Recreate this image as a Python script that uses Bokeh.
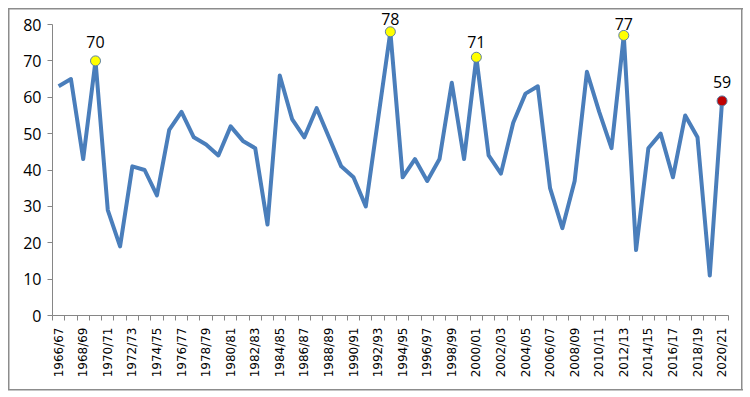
import math
from bokeh.plotting import figure
from bokeh.models import Range1d, FixedTicker, ColumnDataSource, LabelSet
from bokeh.core.properties import value
from bokeh.embed import file_html
from bokeh.resources import INLINE

seasons = [
    "1966/67", "1967/68", "1968/69", "1969/70", "1970/71", "1971/72", "1972/73",
    "1973/74", "1974/75", "1975/76", "1976/77", "1977/78", "1978/79", "1979/80",
    "1980/81", "1981/82", "1982/83", "1983/84", "1984/85", "1985/86", "1986/87",
    "1987/88", "1988/89", "1989/90", "1990/91", "1991/92", "1992/93", "1993/94",
    "1994/95", "1995/96", "1996/97", "1997/98", "1998/99", "1999/00", "2000/01",
    "2001/02", "2002/03", "2003/04", "2004/05", "2005/06", "2006/07", "2007/08",
    "2008/09", "2009/10", "2010/11", "2011/12", "2012/13", "2013/14", "2014/15",
    "2015/16", "2016/17", "2017/18", "2018/19", "2019/20", "2020/21",
]
values = [
    63, 65, 43, 70, 29, 19, 41, 40, 33, 51, 56, 49, 47, 44, 52, 48, 46, 25,
    66, 54, 49, 57, 49, 41, 38, 30, 54, 78, 38, 43, 37, 43, 64, 43, 71, 44,
    39, 53, 61, 63, 35, 24, 37, 67, 56, 46, 77, 18, 46, 50, 38, 55, 49, 11, 59,
]
highlight_seasons = ["1969/70", "1993/94", "2000/01", "2012/13", "2020/21"]
highlight_colors = ["#FFFF00", "#FFFF00", "#FFFF00", "#FFFF00", "#C00000"]
# style: vertical offset (px) of each data label above its marker
label_offsets = [13, 7, 9, 5, 13]

n = len(seasons)
idx = list(range(n))
hx = [seasons.index(s) for s in highlight_seasons]
hy = [values[i] for i in hx]
src = ColumnDataSource(dict(x=hx, y=hy, c=highlight_colors,
                            t=[str(v) for v in hy], off=label_offsets))

p = figure(width=750, height=397, output_backend="svg", toolbar_location=None,
           x_range=Range1d(-0.5, n - 0.5 + 1.0), y_range=Range1d(0, 86.6),
           min_border_left=52, min_border_right=10, min_border_top=0,
           min_border_bottom=82)
g = "linear-gradient(#8c8c8c,#8c8c8c)"
p.styles = {
    "background-color": "white",
    "background-image": ", ".join([g] * 4),
    "background-position": "8px 8px, 8px 389px, 8px 8px, 741px 8px",
    "background-size": "735px 1.5px, 735px 1.5px, 1.5px 382px, 1.5px 382px",
    "background-repeat": "no-repeat",
}
p.outline_line_color = None
p.grid.visible = False
p.background_fill_alpha = 0
p.border_fill_alpha = 0

p.line(idx, values, line_color="#4A7EBB", line_width=4, line_join="round")
p.scatter("x", "y", source=src, size=10, fill_color="c", line_color="#5B7FA6",
          line_width=1)
labels = LabelSet(x="x", y="y", text="t", source=src, text_align="center",
                  text_baseline="alphabetic", y_offset="off",
                  text_font=value("Open Sans"),
                  text_font_size=value("16px"), text_color=value("black"))
p.add_layout(labels)

xa = p.xaxis[0]
xa.bounds = (-0.5, n - 0.5)
xa.ticker = FixedTicker(ticks=idx[::2],
                        minor_ticks=[i - 0.5 for i in range(n + 1)])
xa.major_label_overrides = {i: seasons[i] for i in idx}
xa.major_label_orientation = math.pi / 2
xa.major_tick_line_color = None
xa.minor_tick_in = 0
xa.minor_tick_out = 5
xa.minor_tick_line_color = "#868686"
xa.axis_line_color = "#868686"
xa.major_label_text_font = "DejaVu Sans"
xa.major_label_text_font_size = "12px"
xa.major_label_text_color = "black"
xa.major_label_standoff = 6

ya = p.yaxis[0]
ya.ticker = FixedTicker(ticks=list(range(0, 81, 10)))
ya.bounds = (0, 80)
ya.major_tick_in = 0
ya.major_tick_out = 5
ya.minor_tick_line_color = None
ya.major_tick_line_color = "#868686"
ya.axis_line_color = "#868686"
ya.major_label_text_font = "Open Sans"
ya.major_label_text_font_size = "16px"
ya.major_label_text_color = "black"
ya.major_label_standoff = 6

open("out.html", "w").write(file_html(p, INLINE))
